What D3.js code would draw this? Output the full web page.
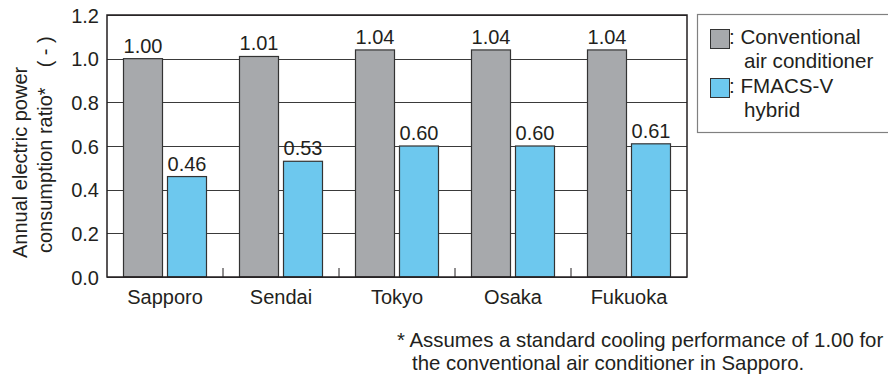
<!DOCTYPE html>
<html>
<head>
<meta charset="utf-8">
<script src="https://cdn.jsdelivr.net/npm/d3@7"></script>
<style>
    body { margin: 0; background: #fff; }
    svg text { font-family: "Liberation Sans", Arial, Helvetica, sans-serif; fill: #231f20; }
</style>
</head>
<body>
<div id="mainDiv"></div>
<script>
var cities = [ 'Sapporo', 'Sendai', 'Tokyo', 'Osaka', 'Fukuoka' ];
var conventional = [ 1.00, 1.01, 1.04, 1.04, 1.04 ];
var hybrid = [ 0.46, 0.53, 0.60, 0.60, 0.61 ];
var yTicks = [ 0, 0.2, 0.4, 0.6, 0.8, 1.0, 1.2 ];
var seriesNames = [ 'conv', 'hybrid' ];
var legendLines = [
    [ ': Conventional', 'air conditioner' ],
    [ ': FMACS-V', 'hybrid' ]
];
var footnote = [ '* Assumes a standard cooling performance of 1.00 for', 'the conventional air conditioner in Sapporo.' ];

var Chart = Chart || {};

Chart.main = function () {

    var _width = 888, _height = 380,
        _left = 107, _right = 687, _top = 15, _bottom = 277,
        _gray = '#a7a9ac', _blue = '#6dc8ee', _edge = '#333',
        _font = 20;

    var svg = d3.select( '#mainDiv' )
        .append( 'svg' )
        .attr( 'width', _width )
        .attr( 'height', _height );

    var x = d3.scaleBand().domain( cities ).range( [ _left, _right ] ).padding( 0 );
    // bars sit 16px in from each band edge, 4px apart
    var xs = d3.scaleBand().domain( seriesNames ).range( [ 16, x.bandwidth() - 16 ] ).paddingInner( 2 - 84 / 44 );
    var y = d3.scaleLinear().domain( [ 0, 1.2 ] ).range( [ _bottom, _top ] );

    // gridlines
    svg.append( 'g' )
        .selectAll( 'line' )
        .data( yTicks )
        .join( 'line' )
        .attr( 'x1', _left ).attr( 'x2', _right )
        .attr( 'y1', function ( d ) { return Math.round( y( d ) ) + 0.5; } )
        .attr( 'y2', function ( d ) { return Math.round( y( d ) ) + 0.5; } )
        .attr( 'stroke', '#3a3a3a' )
        .attr( 'stroke-width', 1 );

    var rows = cities.map( function ( c, i ) {
        return [ { city: c, s: 'conv', v: conventional[ i ] }, { city: c, s: 'hybrid', v: hybrid[ i ] } ];
    } );

    var groups = svg.append( 'g' )
        .selectAll( 'g' )
        .data( rows )
        .join( 'g' )
        .attr( 'transform', function ( d ) { return 'translate(' + x( d[ 0 ].city ) + ',0)'; } );

    groups.selectAll( 'rect' )
        .data( function ( d ) { return d; } )
        .join( 'rect' )
        .attr( 'x', function ( d ) { return xs( d.s ) + 0.5; } )
        .attr( 'y', function ( d ) { return y( d.v ); } )
        .attr( 'width', xs.bandwidth() - 1 )
        .attr( 'height', function ( d ) { return _bottom - y( d.v ); } )
        .attr( 'fill', function ( d ) { return d.s === 'conv' ? _gray : _blue; } )
        .attr( 'stroke', _edge )
        .attr( 'stroke-width', 1.2 );

    groups.selectAll( 'text' )
        .data( function ( d ) { return d; } )
        .join( 'text' )
        .attr( 'x', function ( d ) { return xs( d.s ) + xs.bandwidth() / 2; } )
        .attr( 'y', function ( d ) { return y( d.v ) - 6; } )
        .attr( 'text-anchor', 'middle' )
        .style( 'font-size', _font + 'px' )
        .text( function ( d ) { return d.v.toFixed( 2 ); } );

    // frame
    svg.append( 'rect' )
        .attr( 'x', _left ).attr( 'y', _top )
        .attr( 'width', _right - _left ).attr( 'height', _bottom - _top )
        .attr( 'fill', 'none' )
        .attr( 'stroke', '#231f20' )
        .attr( 'stroke-width', 1.5 );

    // little ticks between the cities
    svg.append( 'g' )
        .selectAll( 'line' )
        .data( cities.slice( 1 ) )
        .join( 'line' )
        .attr( 'x1', function ( d ) { return x( d ); } )
        .attr( 'x2', function ( d ) { return x( d ); } )
        .attr( 'y1', _bottom ).attr( 'y2', _bottom - 9 )
        .attr( 'stroke', '#231f20' );

    var yAxis = svg.append( 'g' )
        .attr( 'transform', 'translate(' + _left + ',0)' )
        .call( d3.axisLeft( y ).tickValues( yTicks ).tickFormat( d3.format( '.1f' ) ).tickSize( 0 ).tickPadding( 8 ) );
    yAxis.select( '.domain' ).remove();
    yAxis.selectAll( 'text' ).style( 'font-size', _font + 'px' ).attr( 'fill', '#231f20' ).attr( 'dy', '0.36em' );

    var xAxis = svg.append( 'g' )
        .attr( 'transform', 'translate(0,' + _bottom + ')' )
        .call( d3.axisBottom( x ).tickSize( 0 ).tickPadding( 13 ) );
    xAxis.select( '.domain' ).remove();
    xAxis.selectAll( 'text' ).style( 'font-size', _font + 'px' ).attr( 'fill', '#231f20' ).attr( 'dy', '0.71em' );

    // y title, two lines
    svg.append( 'text' )
        .attr( 'transform', 'translate(27,258) rotate(-90)' )
        .style( 'font-size', _font + 'px' )
        .text( 'Annual electric power' );
    svg.append( 'text' )
        .attr( 'transform', 'translate(52,253) rotate(-90)' )
        .style( 'font-size', _font + 'px' )
        .attr( 'xml:space', 'preserve' )
        .text( 'consumption ratio*\u2002\u2002( - )' );

    // legend
    var legend = svg.append( 'g' );
    legend.append( 'rect' )
        .attr( 'x', 697.5 ).attr( 'y', 14.5 )
        .attr( 'width', 200 ).attr( 'height', 118 )
        .attr( 'fill', '#fff' )
        .attr( 'stroke', '#808080' )
        .attr( 'stroke-width', 1.2 );

    var items = legend.selectAll( 'g' )
        .data( legendLines )
        .join( 'g' )
        .attr( 'transform', function ( d, i ) { return 'translate(0,' + ( i * 49 ) + ')'; } );
    items.append( 'rect' )
        .attr( 'x', 710.5 ).attr( 'y', 29.5 )
        .attr( 'width', 19 ).attr( 'height', 19 )
        .attr( 'fill', function ( d, i ) { return i === 0 ? _gray : _blue; } )
        .attr( 'stroke', _edge );
    items.append( 'text' )
        .attr( 'x', 729 ).attr( 'y', 44 )
        .style( 'font-size', '20.6px' )
        .text( function ( d ) { return d[ 0 ]; } );
    items.append( 'text' )
        .attr( 'x', 744 ).attr( 'y', 68 )
        .style( 'font-size', '20.6px' )
        .text( function ( d ) { return d[ 1 ]; } );

    // footnote, sized so the whole line still fits the page
    svg.append( 'text' )
        .attr( 'x', 397 ).attr( 'y', 347 )
        .style( 'font-size', '20.4px' )
        .text( footnote[ 0 ] );
    svg.append( 'text' )
        .attr( 'x', 412 ).attr( 'y', 370 )
        .style( 'font-size', '20.4px' )
        .text( footnote[ 1 ] );
}();
</script>
</body>
</html>
